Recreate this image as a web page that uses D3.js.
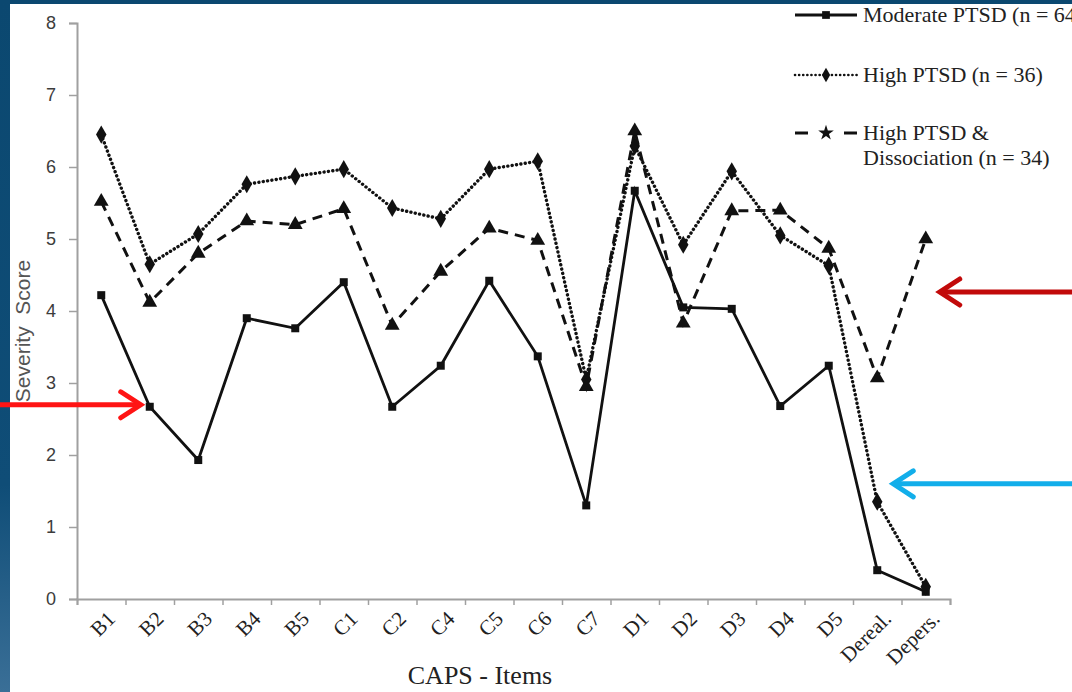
<html>
  <head>
    <script src="https://d3js.org/d3.v7.min.js"></script>
    <style>
      body {margin:0; background:#0c4a73;}
    </style>
  </head>
  <body>
    <div id="chart1"></div>
    <script>
      var items = ["B1","B2","B3","B4","B5","C1","C2","C4","C5","C6","C7","D1","D2","D3","D4","D5","Dereal.","Depers."];
      var moderate = [4.22,2.67,1.93,3.9,3.76,4.4,2.67,3.24,4.42,3.37,1.3,5.67,4.05,4.03,2.68,3.24,0.4,0.1];
      var highPtsd = [6.45,4.65,5.07,5.76,5.87,5.97,5.43,5.28,5.97,6.08,3.05,6.29,4.92,5.94,5.05,4.63,1.35,0.17];
      var dissoc = [5.52,4.12,4.8,5.25,5.2,5.42,3.8,4.55,5.15,4.98,2.95,6.5,3.83,5.39,5.4,4.87,3.07,5.0];
      var yTicks = [0,1,2,3,4,5,6,7,8];
      var legendLabels = [["Moderate PTSD (n = 64)"], ["High PTSD (n = 36)"], ["High PTSD &", "Dissociation (n = 34)"]];

      var W = 1072, H = 692;
      var svg = d3.select("#chart1")
        .append("svg")
          .attr("width", W)
          .attr("height", H);

      var defs = svg.append("defs");
      var grad = defs.append("linearGradient")
        .attr("id", "sideGrad")
        .attr("x1", 0).attr("y1", 0).attr("x2", 0).attr("y2", 1);
      grad.append("stop").attr("offset", "0%").attr("stop-color", "#0b4870");
      grad.append("stop").attr("offset", "70%").attr("stop-color", "#0f4d77");
      grad.append("stop").attr("offset", "100%").attr("stop-color", "#3a6f97");

      svg.append("rect").attr("width", W).attr("height", H).attr("fill", "white");

      var x = d3.scaleBand().domain(items).range([77, 950]);
      var xEdge = d3.scaleLinear().domain([0, items.length]).range([77, 950]);
      var y = d3.scaleLinear().domain([0, 8]).range([599, 23]);
      function cx(i){ return x(items[i]) + x.bandwidth() / 2; }

      // axes
      var yAxis = svg.append("g")
        .attr("transform", "translate(77,0)")
        .call(d3.axisLeft(y).tickValues(yTicks).tickSize(8).tickPadding(13));
      var xAxis = svg.append("g")
        .attr("transform", "translate(0,599)")
        .call(d3.axisBottom(xEdge).ticks(items.length).tickSize(6).tickFormat(""));
      svg.selectAll(".domain").attr("stroke", "#a0a0a0").attr("stroke-width", 2);
      svg.selectAll(".tick line").attr("stroke", "#a0a0a0").attr("stroke-width", 1.5);
      yAxis.selectAll("text")
        .attr("font-family", "Liberation Sans")
        .attr("font-size", 18)
        .attr("fill", "#3c3c3c");

      svg.selectAll(".xlab")
        .data(items)
        .enter()
        .append("text")
          .attr("class", "xlab")
          .attr("transform", function(d, i){ return "translate(" + (cx(i) + 4) + ",609) rotate(-45)"; })
          .attr("text-anchor", "end")
          .attr("dy", "0.75em")
          .attr("font-family", "Liberation Serif")
          .attr("font-size", 21)
          .attr("fill", "#222")
          .text(function(d){ return d; });

      svg.append("text")
        .attr("x", 480).attr("y", 684)
        .attr("text-anchor", "middle")
        .attr("font-family", "Liberation Serif")
        .attr("font-size", 26)
        .attr("fill", "#222")
        .text("CAPS - Items");

      svg.append("text")
        .attr("transform", "translate(30,331) rotate(-90)")
        .attr("text-anchor", "middle")
        .attr("font-family", "Liberation Sans")
        .attr("font-size", 21)
        .attr("fill", "#555")
        .attr("xml:space", "preserve")
        .text("Severity  Score");

      // series
      var series = [
        {values: moderate, dash: null, cap: "butt", width: 2.8, symbol: d3.symbolSquare, size: 64},
        {values: highPtsd, dash: "0.1,4.3", cap: "round", width: 3.4, symbol: d3.symbolDiamond, size: 95},
        {values: dissoc, dash: "10,7", cap: "butt", width: 3, symbol: d3.symbolTriangle, size: 95}
      ];
      var line = d3.line()
        .x(function(d, i){ return cx(i); })
        .y(function(d){ return y(d); });

      series.forEach(function(s){
        svg.append("path")
          .datum(s.values)
          .attr("d", line)
          .attr("fill", "none")
          .attr("stroke", "#111")
          .attr("stroke-width", s.width)
          .attr("stroke-linecap", s.cap)
          .attr("stroke-dasharray", s.dash);
        svg.selectAll(null)
          .data(s.values)
          .enter()
          .append("path")
            .attr("d", d3.symbol().type(s.symbol).size(s.size))
            .attr("transform", function(d, i){ return "translate(" + cx(i) + "," + y(d) + ")"; })
            .attr("fill", "#111");
      });

      // legend
      var legendY = [15, 75, 133];
      var legendSym = [d3.symbolSquare, d3.symbolDiamond, d3.symbolStar];
      legendLabels.forEach(function(lbl, i){
        var g = svg.append("g").attr("transform", "translate(795," + legendY[i] + ")");
        if(i == 2){
          g.append("line").attr("x1", 0).attr("x2", 13).attr("stroke", "#111").attr("stroke-width", 3);
          g.append("line").attr("x1", 49).attr("x2", 62).attr("stroke", "#111").attr("stroke-width", 3);
        }else{
          g.append("line").attr("x1", 0).attr("x2", 62)
            .attr("stroke", "#111")
            .attr("stroke-width", i == 0 ? 2.8 : 2.6)
            .attr("stroke-linecap", i == 0 ? "butt" : "round")
            .attr("stroke-dasharray", i == 0 ? null : "0.1,4");
        }
        g.append("path")
          .attr("d", d3.symbol().type(legendSym[i]).size(i == 2 ? 75 : 60))
          .attr("transform", "translate(31,0)")
          .attr("fill", "#111");
        lbl.forEach(function(t, j){
          g.append("text")
            .attr("x", 68).attr("y", j * 25)
            .attr("dy", "0.33em")
            .attr("font-family", "Liberation Serif")
            .attr("font-size", 22)
            .attr("fill", "#222")
            .text(t);
        });
      });

      // blue frame
      svg.append("rect").attr("width", 10).attr("height", H).attr("fill", "url(#sideGrad)");
      svg.append("rect").attr("width", W).attr("height", 4).attr("fill", "#0b4870");

      // arrows
      function arrow(x1, x2, yy, color){
        var dir = x2 > x1 ? 1 : -1;
        svg.append("line")
          .attr("x1", x1).attr("y1", yy).attr("x2", x2 - dir * 3).attr("y2", yy)
          .attr("stroke", color).attr("stroke-width", 5);
        svg.append("polyline")
          .attr("points", [[x2 - dir * 20, yy - 13], [x2, yy], [x2 - dir * 20, yy + 13]].join(" "))
          .attr("fill", "none")
          .attr("stroke", color).attr("stroke-width", 5)
          .attr("stroke-linecap", "round")
          .attr("stroke-linejoin", "miter");
      }
      arrow(0, cx(1) - 9, y(moderate[1]) - 2, "#ff1414");
      arrow(W, cx(17) + 14, 292, "#c20a0a");
      arrow(W, cx(16) + 16, y(highPtsd[16]) - 18, "#12aeea");
    </script>
  </body>
</html>
